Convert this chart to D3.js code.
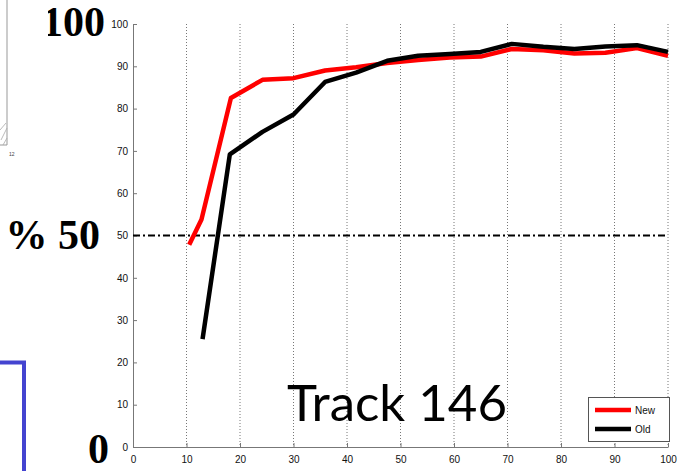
<!DOCTYPE html>
<html><head><meta charset="utf-8">
<script src="https://cdn.jsdelivr.net/npm/d3@7"></script>
<style>body{margin:0;background:#fff}svg{display:block}</style>
</head><body>
<script>
const newX = [10.5, 12.8, 18.3, 24.2, 30, 35.9, 41.7, 47.5, 53.3, 59.2, 65, 70.8, 76.7, 82.5, 88.3, 94.2, 100];
const newY = [47.8, 53.8, 82.5, 86.8, 87.2, 89.0, 89.8, 90.8, 91.5, 92.1, 92.3, 94.1, 93.8, 93.0, 93.2, 94.3, 92.5];
const oldX = [13, 18.1, 24.2, 30, 35.9, 41.7, 47.5, 53.3, 59.2, 65, 70.8, 76.7, 82.5, 88.3, 94.2, 100];
const oldY = [25.5, 69.2, 74.5, 78.6, 86.3, 88.5, 91.3, 92.5, 92.9, 93.4, 95.3, 94.6, 94.1, 94.7, 95.0, 93.4];
const xTicks = [0, 10, 20, 30, 40, 50, 60, 70, 80, 90, 100];
const yTicks = [0, 10, 20, 30, 40, 50, 60, 70, 80, 90, 100];
const refLevel = 50;
const seriesNames = ["New", "Old"];
const seriesColors = ["#ff0000", "#000000"];

const W = 677, H = 471;
const svg = d3.select("body").append("svg").attr("width", W).attr("height", H);
const x = d3.scaleLinear().domain([0, 100]).range([133, 668]);
const y = d3.scaleLinear().domain([0, 100]).range([447, 24]);

// left slide decorations
svg.append("line").attr("x1", 7).attr("x2", 7).attr("y1", 0).attr("y2", 145).attr("stroke", "#999").attr("stroke-width", 1);
svg.append("line").attr("x1", 0).attr("x2", 7).attr("y1", 145).attr("y2", 145).attr("stroke", "#999").attr("stroke-width", 1);
[[0,130,6,123],[1,140,7,128],[3,145,7,138]].forEach(d=>svg.append("line").attr("x1",d[0]).attr("y1",d[1]).attr("x2",d[2]).attr("y2",d[3]).attr("stroke","#aaa").attr("stroke-width",0.8));
svg.append("text").attr("x", 9).attr("y", 156).attr("font-family", "Liberation Sans, Arial, sans-serif").attr("font-size", 5).attr("fill", "#444").text("12");
svg.append("path").attr("d", "M0,362.5 H24 V471").attr("fill", "none").attr("stroke", "#4444d0").attr("stroke-width", 4);

const serif = "Liberation Serif, Times New Roman, serif";
svg.append("text").attr("x", 105).attr("y", 36).attr("text-anchor", "end").attr("font-family", serif).attr("font-weight", "bold").attr("font-size", 42).attr("fill", "#000").text("100");
svg.append("rect").attr("x", 0).attr("y", 0).attr("width", 48).attr("height", 40).attr("fill", "#fff");
svg.append("line").attr("x1", 7).attr("x2", 7).attr("y1", 0).attr("y2", 40).attr("stroke", "#999").attr("stroke-width", 1);
svg.append("text").attr("x", 100).attr("y", 249).attr("text-anchor", "end").attr("font-family", serif).attr("font-weight", "bold").attr("font-size", 42).attr("fill", "#000").text("% 50");
svg.append("text").attr("x", 109).attr("y", 463).attr("text-anchor", "end").attr("font-family", serif).attr("font-weight", "bold").attr("font-size", 42).attr("fill", "#000").text("0");

// vertical dotted grid
svg.append("g").selectAll("line").data(xTicks.filter(t => t > 0)).join("line")
  .attr("x1", d => x(d)).attr("x2", d => x(d)).attr("y1", y(100)).attr("y2", y(0))
  .attr("stroke", "#777").attr("stroke-width", 1).attr("stroke-dasharray", "1,2");

// axes
const axFont = "Liberation Sans, Arial, sans-serif";
const gx = svg.append("g").attr("transform", `translate(0,${y(0)})`)
  .call(d3.axisBottom(x).tickValues(xTicks).tickSizeInner(-4).tickSizeOuter(0).tickPadding(9));
const gy = svg.append("g").attr("transform", `translate(${x(0)},0)`)
  .call(d3.axisLeft(y).tickValues(yTicks).tickSizeInner(-4).tickSizeOuter(0).tickPadding(5));
[gx, gy].forEach(g => {
  g.select(".domain").attr("stroke", "#777");
  g.selectAll(".tick line").attr("stroke", "#777");
  g.selectAll("text").attr("font-family", axFont).attr("font-size", 10).attr("fill", "#111");
});

// 50% reference line
svg.append("line").attr("x1", x(0)).attr("x2", x(100)).attr("y1", y(refLevel)).attr("y2", y(refLevel))
  .attr("stroke", "#000").attr("stroke-width", 2).attr("stroke-dasharray", "7,3,2,3");

// series lines
const line = d3.line().x(d => x(d[0])).y(d => y(d[1]));
const series = [d3.zip(newX, newY), d3.zip(oldX, oldY)];
series.forEach((s, i) => {
  svg.append("path").datum(s).attr("d", line).attr("fill", "none")
    .attr("stroke", seriesColors[i]).attr("stroke-width", 4.5).attr("stroke-linejoin", "round");
});

// title text
svg.append("text").attr("x", 287).attr("y", 421).attr("font-family", "Comic Sans MS, Lato, sans-serif")
  .attr("font-size", 50).attr("textLength", 220).attr("lengthAdjust", "spacingAndGlyphs").attr("fill", "#000").text("Track 146");

// legend
const lg = svg.append("g");
lg.append("rect").attr("x", 588.5).attr("y", 397.5).attr("width", 81).attr("height", 44).attr("fill", "#fff").attr("stroke", "#555").attr("stroke-width", 1);
seriesNames.forEach((n, i) => {
  const yy = 410 + i * 19;
  lg.append("line").attr("x1", 595).attr("x2", 631).attr("y1", yy).attr("y2", yy).attr("stroke", seriesColors[i]).attr("stroke-width", 4.5);
  lg.append("text").attr("x", 635).attr("y", yy + 4).attr("font-family", axFont).attr("font-size", 10).attr("fill", "#111").text(n);
});
</script>
</body></html>
